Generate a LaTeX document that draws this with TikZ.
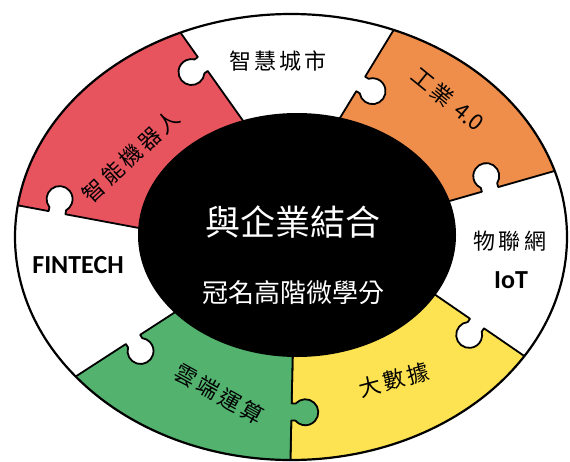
\documentclass[tikz,border=0pt]{standalone}
\usepackage{fontspec}
\usepackage{tikz}
\usetikzlibrary{calc}
\newfontfamily\cjk{Noto Sans CJK TC}
\newfontfamily\cjkring[LetterSpace=15]{Noto Sans CJK TC}
\newfontfamily\latin{Carlito}
\definecolor{robotred}{RGB}{232,84,94}
\definecolor{industryorange}{RGB}{239,142,74}
\definecolor{datayellow}{RGB}{253,226,82}
\definecolor{cloudgreen}{RGB}{82,178,110}
\newcommand\knob[3]{-- ($(#1)+({#2+180}:8.5)$) -- ++({#2+(#3)*90}:4)
  arc[start angle={#2-(#3)*130.83}, delta angle={-(#3)*278.34}, radius=13]
  -- ++({#2-(#3)*90}:4)}

\begin{document}
\begin{tikzpicture} [x=1pt, y=-1pt,
    piece/.style={draw=black, line width=1.8pt, line join=round},
    ring/.style={font=\cjkring\fontsize{22}{22}\selectfont, inner sep=0pt},
    latinlabel/.style={font=\latin\bfseries\fontsize{26}{26}\selectfont, inner sep=0pt}]
  \useasboundingbox (0,0) rectangle (570,461);
  \coordinate (Ain) at (251,132);   \coordinate (Aout) at (163,8);
  \coordinate (Bout) at (0,202);    \coordinate (Bin) at (155,231);
  \coordinate (Cin) at (332,131);   \coordinate (Cout) at (415,-5);
  \coordinate (Dout) at (579,164);  \coordinate (Din) at (432,206);
  \coordinate (Ein) at (421,285);   \coordinate (Eout) at (565,384);
  \coordinate (Fin) at (293,340);   \coordinate (Fout) at (290,480);
  \coordinate (Gout) at (44,397);   \coordinate (Gin) at (188.5,303.5);
  \coordinate (mA) at ($(Ain)!0.548!(Aout)$);
  \coordinate (mB) at ($(Bout)!0.368!(Bin)$);
  \coordinate (mC) at ($(Cin)!0.346!(Cout)$);
  \coordinate (mD) at ($(Dout)!0.605!(Din)$);
  \coordinate (mE) at ($(Ein)!0.389!(Eout)$);
  \coordinate (mF) at ($(Fin)!0.514!(Fout)$);
  \coordinate (mG) at ($(Gout)!0.616!(Gin)$);
  \fill[white] (291,237) ellipse [x radius=276, y radius=223];
  \begin{scope}
    \clip (291,237) ellipse [x radius=276, y radius=223];
    \filldraw[piece, fill=robotred] (Ain) \knob{mA}{234.64}{-1} -- (Aout) -- (-20,-20)
      -- (Bout) \knob{mB}{10.6}{-1} -- (Bin) -- cycle;
    \filldraw[piece, fill=industryorange] (Cin) \knob{mC}{-58.61}{1} -- (Cout) -- (600,-20)
      -- (Dout) \knob{mD}{164.05}{1} -- (Din) -- cycle;
    \filldraw[piece, fill=datayellow] (Ein) \knob{mE}{34.51}{1} -- (Eout) -- (600,500)
      -- (Fout) -- (Fin) -- cycle;
    \filldraw[piece, fill=cloudgreen] (Fin) \knob{mF}{91.23}{-1} -- (Fout) -- (-20,480)
      -- (Gout) \knob{mG}{-32.9}{1} -- (Gin) -- cycle;
  \end{scope}
  \draw[line width=2.2pt] (291,237) ellipse [x radius=276, y radius=223];
  \fill (297,235) ellipse [x radius=159, y radius=122];
  \path (293,222) node(core) [white, font=\cjk\fontsize{35}{35}\selectfont] {與企業結合}
        (293,293) node(credit) [white, font=\cjk\fontsize{26}{26}\selectfont] {冠名高階微學分};
  \path (131,156) node(robot) [ring, rotate=43] {智能機器人}
        (278,61)  node(city) [ring] {智慧城市}
        (448,99)  node(industry) [ring, rotate=-39] {工業 {\cjk 4.0}}
        (510,241) node(iot) [ring] {物聯網}
        (511,280) node(iotname) [latinlabel] {IoT}
        (394,380) node(data) [ring, rotate=15] {大數據}
        (219,394) node(cloud) [ring, rotate=-29] {雲端運算}
        (78,265)  node(fintech) [latinlabel] {FINTECH};
\end{tikzpicture}
\end{document}
